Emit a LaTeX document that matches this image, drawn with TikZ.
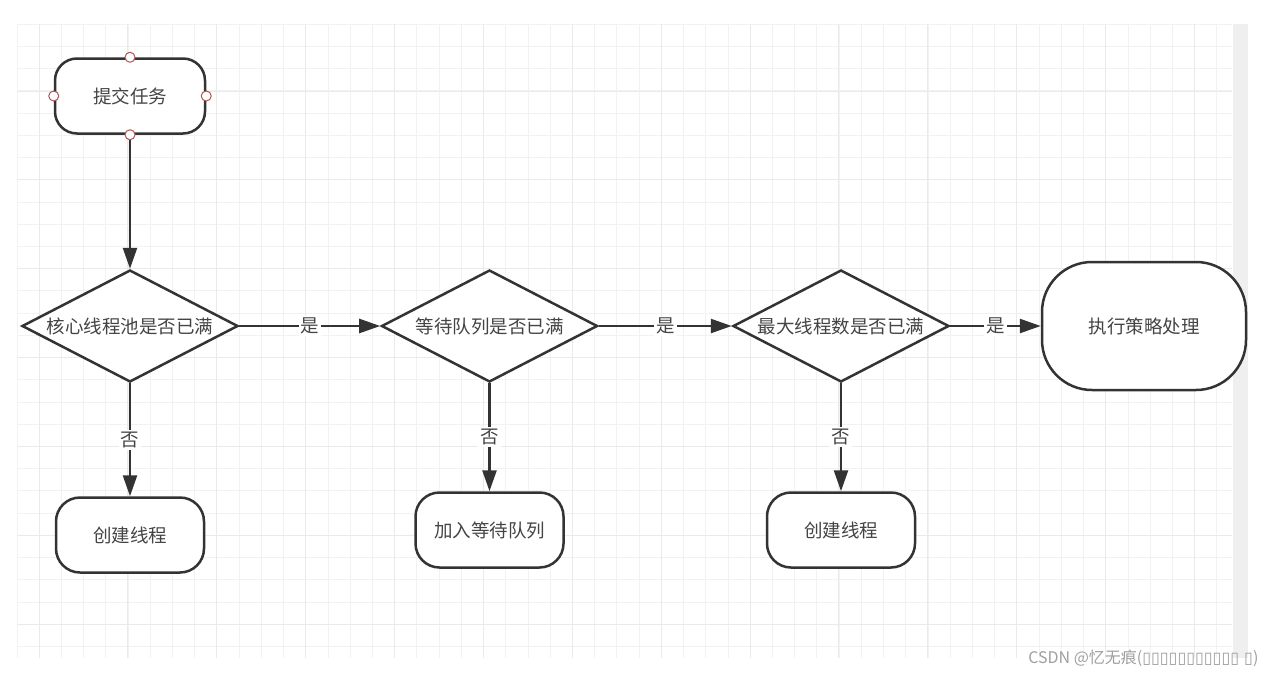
\documentclass[tikz,border=0pt]{standalone}
\usepackage{fontspec}
\setmainfont{Noto Sans CJK SC}
\newfontfamily\tofufont{DejaVu Sans}
\usetikzlibrary{arrows.meta,positioning,shapes.geometric}
\definecolor{lineclr}{HTML}{333333}
\definecolor{textclr}{HTML}{444444}
\definecolor{gridminor}{HTML}{F2F2F2}
\definecolor{gridmajor}{HTML}{EAEAEA}
\definecolor{stripclr}{HTML}{EFEFEF}
\definecolor{portclr}{HTML}{B05555}
\begin{document}
\begin{tikzpicture}[
  x=1pt, y=-1pt,
  font=\fontsize{18.5}{20}\selectfont, text=textclr,
  term/.style={draw=lineclr, line width=2.5pt, fill=white, rectangle,
               rounded corners=22pt, minimum width=150pt, minimum height=75pt},
  proc/.style={term, rounded corners=24pt, minimum width=148pt},
  decide/.style={draw=lineclr, line width=2.5pt, fill=white, diamond,
                 shape aspect=1.93, inner sep=0pt,
                 minimum width=216pt, minimum height=112pt},
  flow/.style={draw=lineclr, line width=2.5pt,
               -{Triangle[length=21pt,width=14pt]}},
  lbl/.style={fill=white, inner sep=2pt},
  port/.style={draw=portclr, fill=white, line width=1pt}
]
\useasboundingbox (0,0) rectangle (1276,678);
% background grid
\fill[white] (17,24) rectangle (1232,658);
\foreach \i in {0,...,54} \draw[gridminor, line width=1pt] (17+22.22*\i,24) -- (17+22.22*\i,658);
\foreach \j in {0,...,28} \draw[gridminor, line width=1pt] (17,24.3+22.22*\j) -- (1232,24.3+22.22*\j);
\foreach \i in {0,...,13} \draw[gridmajor, line width=1pt] (39+88.88*\i,24) -- (39+88.88*\i,658);
\foreach \j in {0,...,6} \draw[gridmajor, line width=1pt] (17,91+88.88*\j) -- (1232,91+88.88*\j);
\fill[stripclr] (1233,24) rectangle (1248,658);

% nodes
\node[term] (submit) at (130,96) {提交任务};
\node[decide, below=134pt of submit] (corefull) {核心线程池是否已满};
\node[decide, right=141pt of corefull] (queuefull) {等待队列是否已满};
\node[decide, right=133pt of queuefull] (maxfull) {最大线程数是否已满};
\node[term, rounded corners=50pt, minimum width=204pt, minimum height=128pt,
      right=90.5pt of maxfull] (policy) {执行策略处理};
\node[proc, below=113pt of corefull] (newcore) {创建线程};
\node[proc, below=108pt of queuefull] (enqueue) {加入等待队列};
\node[proc, below=108pt of maxfull] (newmax) {创建线程};

% connectors
\draw[flow] (submit) -- (corefull);
\draw[flow] (corefull) -- node[lbl]{是} (queuefull);
\draw[flow] (queuefull) -- node[lbl]{是} (maxfull);
\draw[flow] (maxfull) -- node[lbl]{是} (policy);
\draw[flow] (corefull) -- node[lbl]{否} (newcore);
\draw[flow] (queuefull) -- node[lbl]{否} (enqueue);
\draw[flow] (maxfull) -- node[lbl]{否} (newmax);
\foreach \a in {north,south,east,west} \draw[port] (submit.\a) circle (5pt);

\node[anchor=east, text=gray!75, font=\fontsize{16}{18}\selectfont] (mark) at (1262,658)
  {CSDN @忆无痕({\tofufont ▯▯▯▯▯▯▯▯▯▯▯ ▯})};
\end{tikzpicture}
\end{document}
